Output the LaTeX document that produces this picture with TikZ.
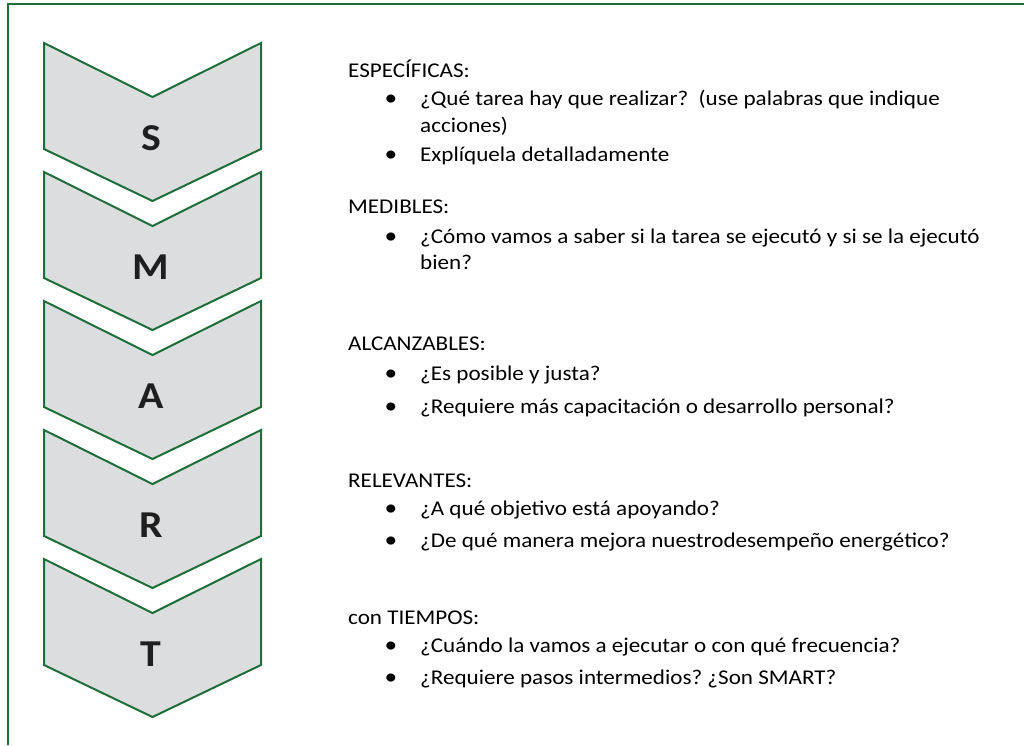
\documentclass[tikz,border=0pt]{standalone}
\usepackage{fontspec}
\setmainfont{Carlito}[FakeStretch=1.1]
\frenchspacing
\definecolor{smartgreen}{RGB}{30,110,58}
\definecolor{smartgray}{RGB}{220,221,223}
\tikzset{
  chevron/.style={draw=smartgreen, fill=smartgray, line width=2pt, line join=miter},
  letra/.style={font=\fontsize{38}{40}\selectfont\bfseries, text=black!88},
  titulo/.style={anchor=base west, inner sep=0pt, font=\fontsize{21}{25}\selectfont},
  vineta/.style={anchor=base, inner sep=0pt, font=\fontsize{23}{25}\selectfont},
}
\begin{document}
\begin{tikzpicture}[x=1pt,y=-1pt]
  \useasboundingbox (0,0) rectangle (1024,745);
  % marco
  \draw[smartgreen,line width=2.5pt] (8,745)--(8,4)--(1024,4);
  % flechas SMART
  \foreach \l [count=\i] in {S,M,A,R,T}{
    \pgfmathsetmacro{\y}{43+129*(\i-1)}
    \draw[chevron] (44,\y)--(152.5,\y+54)--(261,\y)--(261,\y+106)--(152.5,\y+158)--(44,\y+106)--cycle;
    \node[letra] (l\l) at (151,\y+95) {\l};
  }
  % textos
  \node[titulo] (tS) at (348,77) {ESPECÍFICAS:};
  \node[vineta] (bS1) at (391,105) {•};
  \node[titulo] (tS1) at (420,105) {¿Qué tarea hay que realizar?\ \ (use palabras que indique};
  \node[titulo] (tS1b) at (420,132) {acciones)};
  \node[vineta] (bS2) at (391,161) {•};
  \node[titulo] (tS2) at (420,161) {Explíquela detalladamente};
  \node[titulo] (tM) at (348,213) {MEDIBLES:};
  \node[vineta] (bM1) at (391,243) {•};
  \node[titulo] (tM1) at (420,243) {¿Cómo vamos a saber si la tarea se ejecutó y si se la ejecutó};
  \node[titulo] (tM1b) at (420,269) {bien?};
  \node[titulo] (tA) at (348,350) {ALCANZABLES:};
  \node[vineta] (bA1) at (391,380) {•};
  \node[titulo] (tA1) at (420,380) {¿Es posible y justa?};
  \node[vineta] (bA2) at (391,413) {•};
  \node[titulo] (tA2) at (420,413) {¿Requiere más capacitación o desarrollo personal?};
  \node[titulo] (tR) at (348,487) {RELEVANTES:};
  \node[vineta] (bR1) at (391,515) {•};
  \node[titulo] (tR1) at (420,515) {¿A qué objetivo está apoyando?};
  \node[vineta] (bR2) at (391,547) {•};
  \node[titulo] (tR2) at (420,547) {¿De qué manera mejora nuestrodesempeño energético?};
  \node[titulo] (tT) at (348,624) {con TIEMPOS:};
  \node[vineta] (bT1) at (391,652) {•};
  \node[titulo] (tT1) at (420,652) {¿Cuándo la vamos a ejecutar o con qué frecuencia?};
  \node[vineta] (bT2) at (391,684) {•};
  \node[titulo] (tT2) at (420,684) {¿Requiere pasos intermedios? ¿Son SMART?};
\end{tikzpicture}
\end{document}
